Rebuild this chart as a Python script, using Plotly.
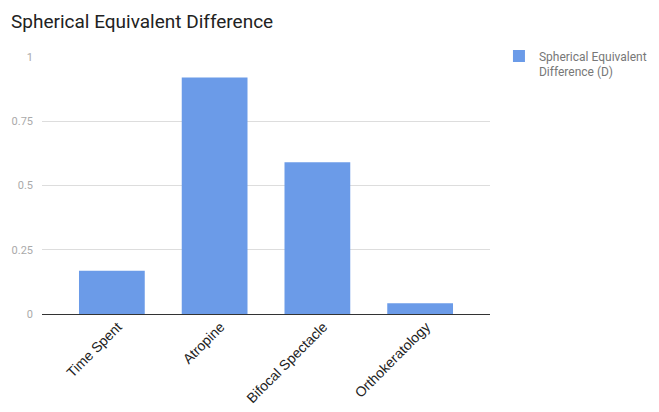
import plotly.graph_objects as go

# Chart data
categories = ["Time Spent", "Atropine", "Bifocal Spectacle", "Orthokeratology"]
se_difference = [0.168, 0.92, 0.59, 0.042]
y_tick_values = [0, 0.25, 0.5, 0.75, 1]
y_tick_labels = ["0", "0.25", "0.5", "0.75", "1"]

series_name = "Spherical Equivalent<br>Difference (D)"
bar_color = "#6b9be8"

fig = go.Figure()
fig.add_trace(go.Bar(
    x=categories,
    y=se_difference,
    name=series_name,
    marker=dict(color=bar_color, line=dict(width=0)),
    showlegend=True,
))

fig.update_layout(
    width=659,
    height=412,
    margin=dict(l=42, r=169, t=57, b=98, autoexpand=False),
    paper_bgcolor="white",
    plot_bgcolor="white",
    font=dict(family="Roboto", color="#222222"),
    title=dict(
        text="Spherical Equivalent Difference",
        x=11 / 659, xref="container", xanchor="left",
        y=1 - 21 / 412, yref="container", yanchor="middle",
        font=dict(size=19, color="#222222", family="Roboto"),
    ),
    bargap=0.36,
    legend=dict(
        x=1.02, xanchor="left",
        y=1.06, yanchor="top",
        valign="top",
        font=dict(size=12, color="#777777", family="Roboto"),
        bgcolor="rgba(0,0,0,0)",
        itemclick=False,
    ),
    showlegend=True,
)

fig.update_xaxes(
    range=[-0.68, 3.68],
    tickangle=-45,
    tickfont=dict(size=14, color="#222222", family="Liberation Sans, Arial"),
    showgrid=False,
    showline=False,
    zeroline=False,
    ticks="",
    ticklabelstandoff=1,
    ticklabelshift=6,
    automargin=False,
)

fig.update_yaxes(
    range=[0, 1],
    tickvals=y_tick_values,
    ticktext=y_tick_labels,
    tickfont=dict(size=11, color="#aaaaaa"),
    showgrid=True,
    gridcolor="#dddddd",
    gridwidth=1,
    zeroline=True,
    zerolinecolor="#333333",
    zerolinewidth=1,
    ticks="",
    ticklabelstandoff=8,
    showline=False,
    automargin=False,
)

fig.write_html("out.html")
